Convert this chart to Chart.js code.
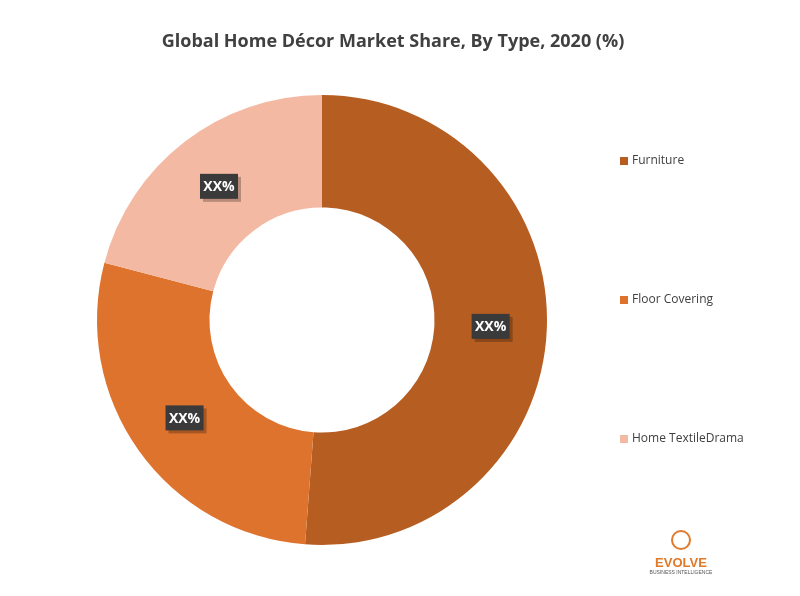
<!DOCTYPE html>
<html><head><meta charset="utf-8">
<script src="https://cdn.jsdelivr.net/npm/chart.js@4"></script>
<style>html,body{margin:0;padding:0;background:#fff}#w{position:relative;width:800px;height:596px}</style>
</head><body><div id="w"><canvas id="c" width="800" height="596"></canvas></div>
<script>
const categories = ["Furniture", "Floor Covering", "Home TextileDrama"];
const shares = [51.2, 27.9, 20.9];
const labelsText = ["XX%", "XX%", "XX%"];
const colors = ["#B65E22", "#DE732E", "#F4B9A2"];
const titleText = 'Global Home Décor Market Share, By Type, 2020 (%)';

const overlay = {
  id: 'overlay',
  afterDraw(chart) {
    const ctx = chart.ctx;
    const meta = chart.getDatasetMeta(0);
    ctx.save();
    ctx.textAlign = 'center'; ctx.textBaseline = 'middle';
    ctx.font = 'bold 18px "Open Sans", Arial';
    ctx.fillStyle = '#404040';
    ctx.fillText(titleText, 393, 42);
    ctx.font = 'bold 14px "Open Sans", Arial';
    meta.data.forEach((arc, i) => {
      const p = arc.tooltipPosition();
      const w = 38, h = 25;
      ctx.fillStyle = 'rgba(0,0,0,0.25)';
      ctx.fillRect(p.x - w/2 + 3, p.y - h/2 + 3, w, h);
      ctx.fillStyle = '#3a3a3a';
      ctx.fillRect(p.x - w/2, p.y - h/2, w, h);
      ctx.fillStyle = '#fff';
      ctx.fillText(labelsText[i], p.x, p.y + 1);
    });
    ctx.font = '12px "Open Sans", Arial';
    ctx.textAlign = 'left';
    const ys = [161, 300, 439];
    categories.forEach((c, i) => {
      ctx.fillStyle = colors[i];
      ctx.fillRect(620, ys[i] - 4, 8, 8);
      ctx.fillStyle = '#404040';
      ctx.fillText(c, 632, ys[i]);
    });
    ctx.textAlign = 'center';
    ctx.font = 'bold 13px Arial';
    ctx.fillStyle = '#E07A2A';
    ctx.fillText('EVOLVE', 681, 563);
    ctx.font = '5px Arial';
    ctx.fillStyle = '#555';
    ctx.fillText('BUSINESS INTELLIGENCE', 681, 573);
    ctx.strokeStyle = '#E07A2A'; ctx.lineWidth = 2;
    ctx.beginPath(); ctx.arc(681, 540, 9, 0, Math.PI*2); ctx.stroke();
    ctx.restore();
  }
};

new Chart(document.getElementById('c'), {
  type: 'doughnut',
  data: { labels: categories, datasets: [{ data: shares, backgroundColor: colors, borderWidth: 0 }] },
  options: {
    responsive: false, animation: false, cutout: '50%',
    layout: { padding: { left: 97, right: 253, top: 95, bottom: 51 } },
    plugins: { legend: { display: false }, tooltip: { enabled: false } }
  },
  plugins: [overlay]
});
</script></body></html>
